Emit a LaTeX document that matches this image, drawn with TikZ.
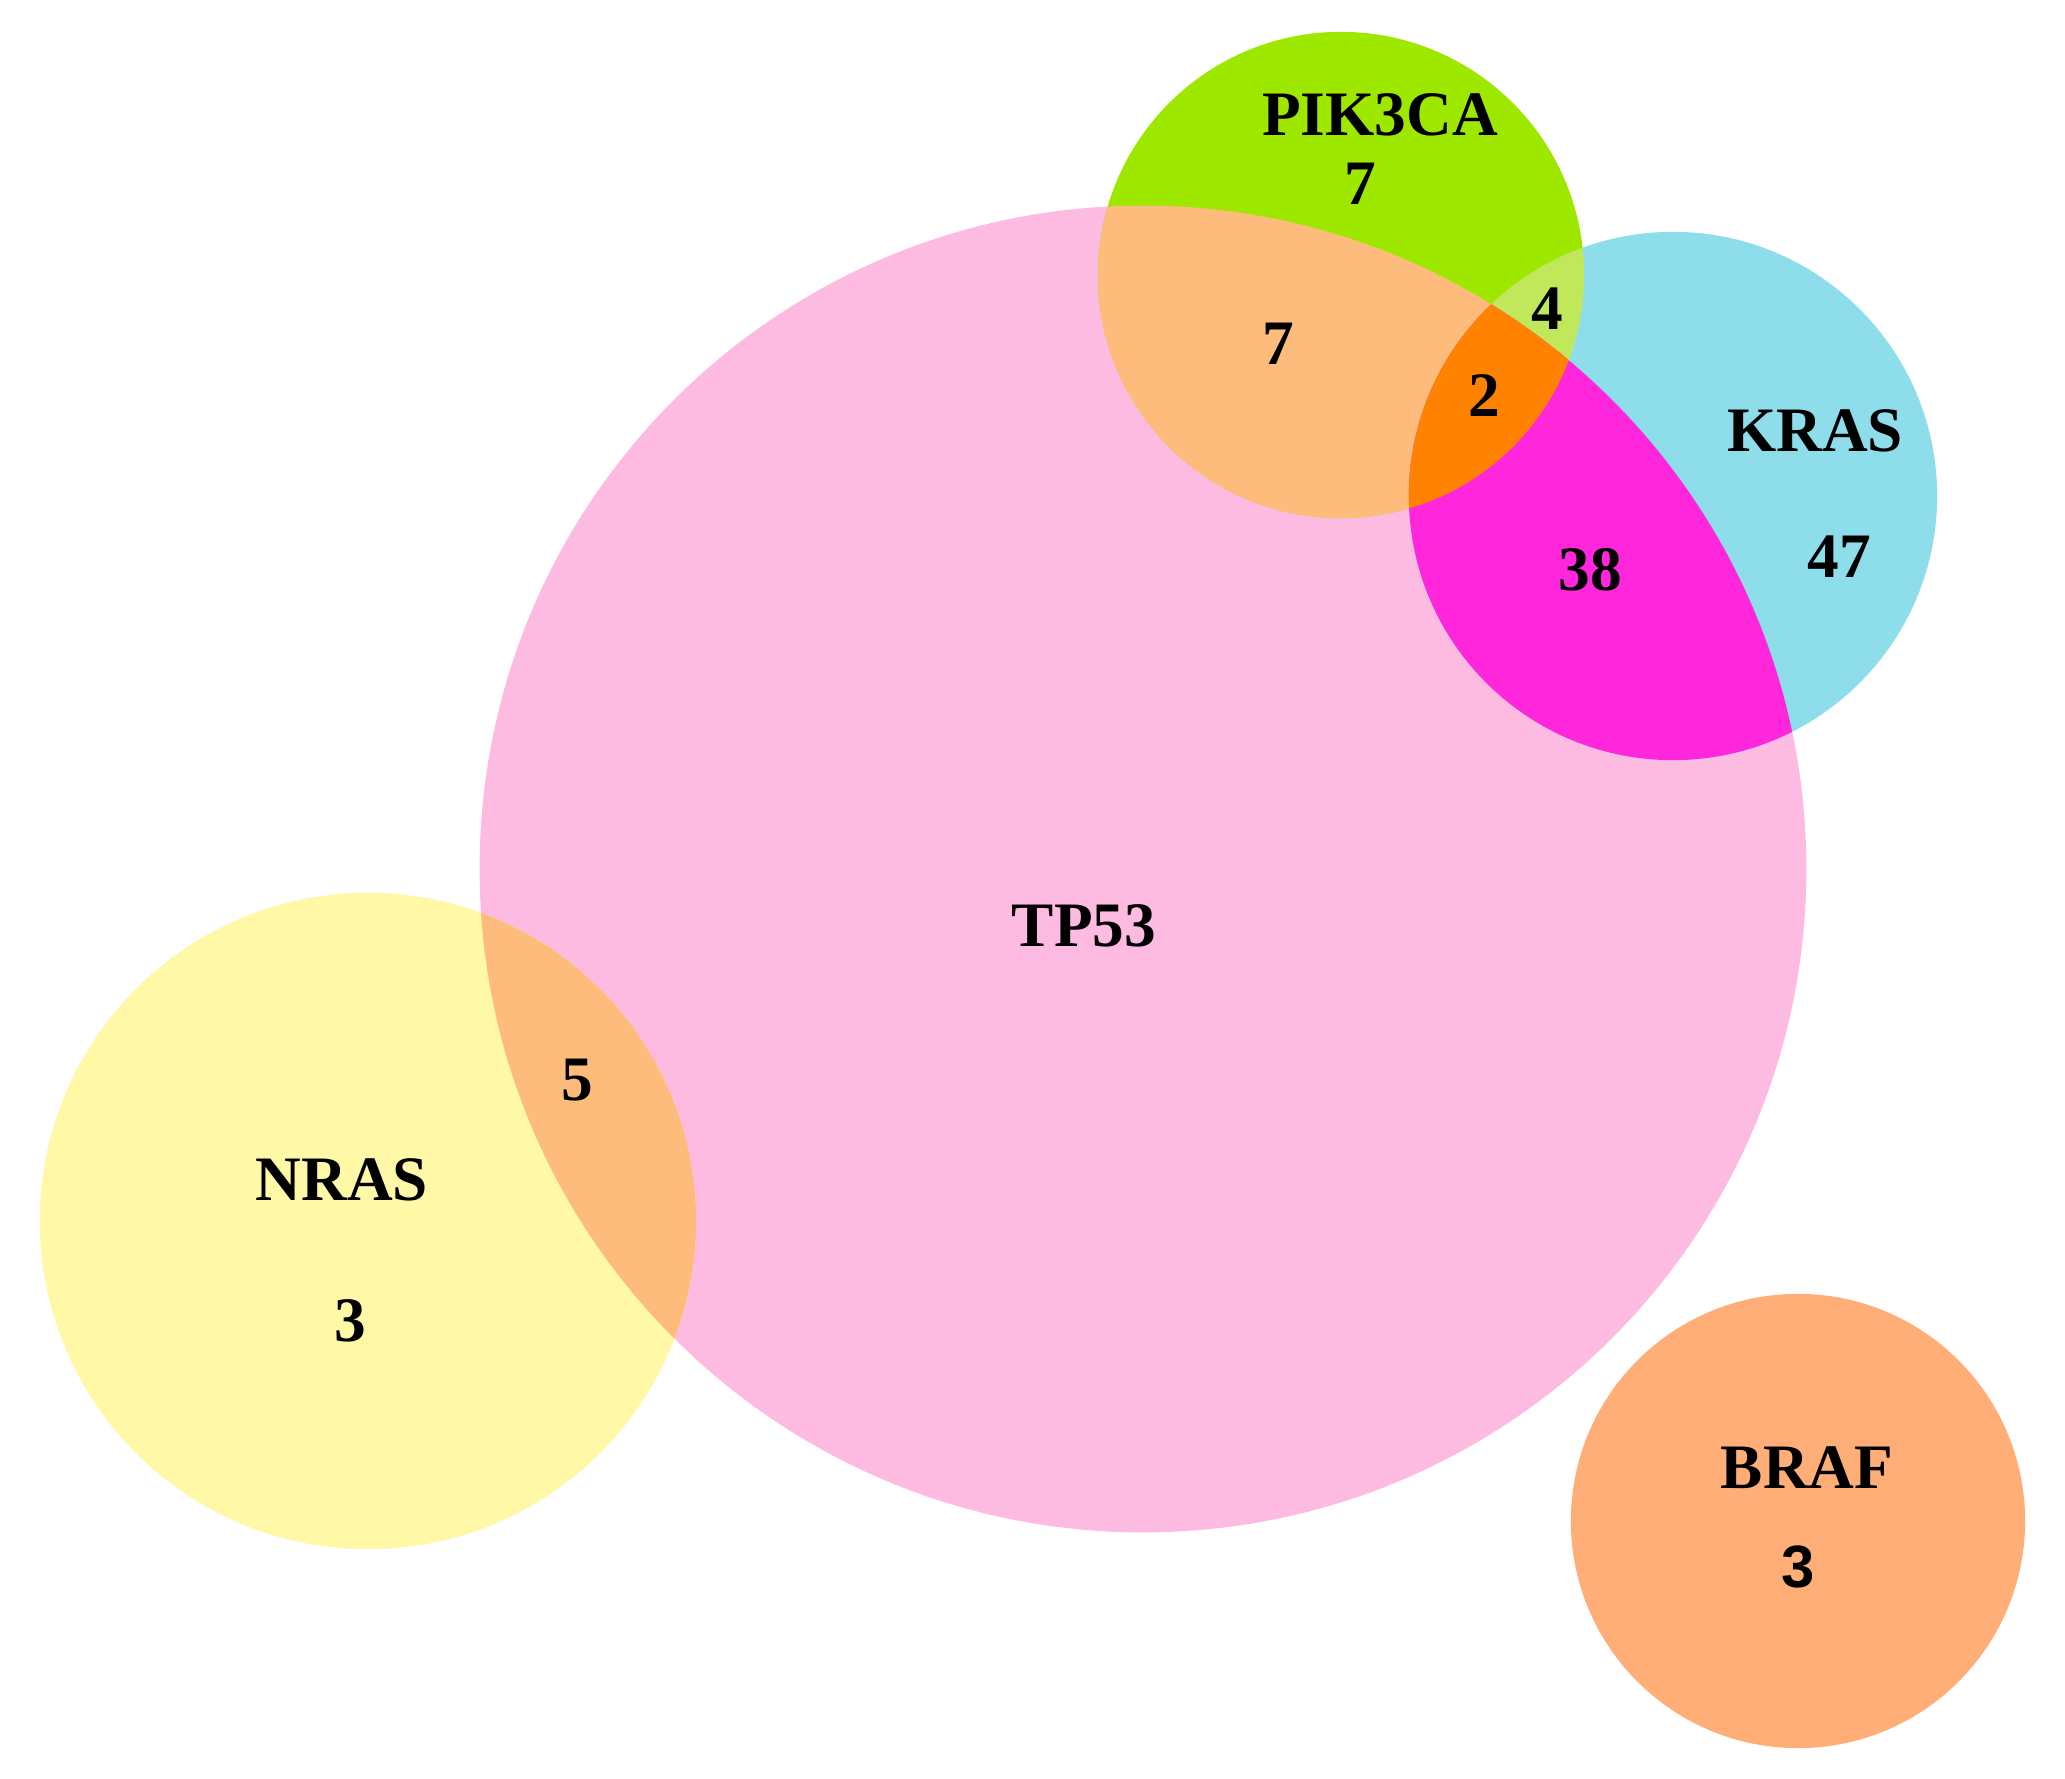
\documentclass[tikz,border=0pt]{standalone}
\usepackage{fontspec}
\setmainfont{Liberation Serif}
\newfontfamily\sanslab{Liberation Sans}
\definecolor{tppink}{HTML}{FEBBE2}
\definecolor{pikgreen}{HTML}{9EE800}
\definecolor{krblue}{HTML}{8EDDEA}
\definecolor{nryellow}{HTML}{FFF8A6}
\definecolor{brorange}{HTML}{FFAE78}
\definecolor{peach}{HTML}{FDBC7B}
\definecolor{lime}{HTML}{C0E85A}
\definecolor{magen}{HTML}{FF26DB}
\definecolor{triorange}{HTML}{FF8200}
\tikzset{
  lab/.style={font=\bfseries\fontsize{18}{20}\selectfont, text=black, inner sep=0pt, anchor=center},
}
\begin{document}
\begin{tikzpicture}[x=0.01cm,y=-0.01cm]
\useasboundingbox (0,0) rectangle (2065,1779);
\fill[white] (0,0) rectangle (2065,1779);
\coordinate (cTP) at (1143,869);
\coordinate (cPI) at (1341,275);
\coordinate (cKR) at (1673,496);
\coordinate (cNR) at (368,1221);
\coordinate (cBR) at (1798,1521);
\def\rTP{6.63cm}
\def\rPI{2.43cm}
\def\rKR{2.64cm}
\def\rNR{3.28cm}
\def\rBR{2.27cm}
% base circles
\fill[tppink] (cTP) circle[radius=\rTP];
\fill[nryellow] (cNR) circle[radius=\rNR];
\fill[pikgreen] (cPI) circle[radius=\rPI];
\fill[krblue] (cKR) circle[radius=\rKR];
\fill[brorange] (cBR) circle[radius=\rBR];
% PIK3CA & KRAS
\begin{scope}
  \clip (cPI) circle[radius=\rPI];
  \fill[lime] (cKR) circle[radius=\rKR];
\end{scope}
% overlaps with TP53
\begin{scope}
  \clip (cTP) circle[radius=\rTP];
  \fill[peach] (cPI) circle[radius=\rPI];
  \fill[magen] (cKR) circle[radius=\rKR];
  \fill[peach] (cNR) circle[radius=\rNR];
  \clip (cPI) circle[radius=\rPI];
  \fill[triorange] (cKR) circle[radius=\rKR];
\end{scope}
% labels
\node[lab] (lPI) at (1380,115) {PIK3CA};
\node[lab] (nPI) at (1360,184) {7};
\node[lab] (nTPPI) at (1278,344) {7};
\node[lab] (nPIKR) at (1547,309) {4};
\node[lab] (nTri) at (1484,396) {2};
\node[lab] (lKR) at (1815,431) {KRAS};
\node[lab] (nTPKR) at (1590,570) {38};
\node[lab] (nKR) at (1839,557) {47};
\node[lab] (lTP) at (1084,926) {TP53};
\node[lab] (nTPNR) at (577,1080) {5};
\node[lab] (lNR) at (342,1180) {NRAS};
\node[lab] (nNR) at (350,1321) {3};
\node[lab] (lBR) at (1807,1468) {BRAF};
\node[lab, font=\sanslab\bfseries\fontsize{17}{20}\selectfont] (nBR) at (1798,1567) {3};
\end{tikzpicture}
\end{document}
